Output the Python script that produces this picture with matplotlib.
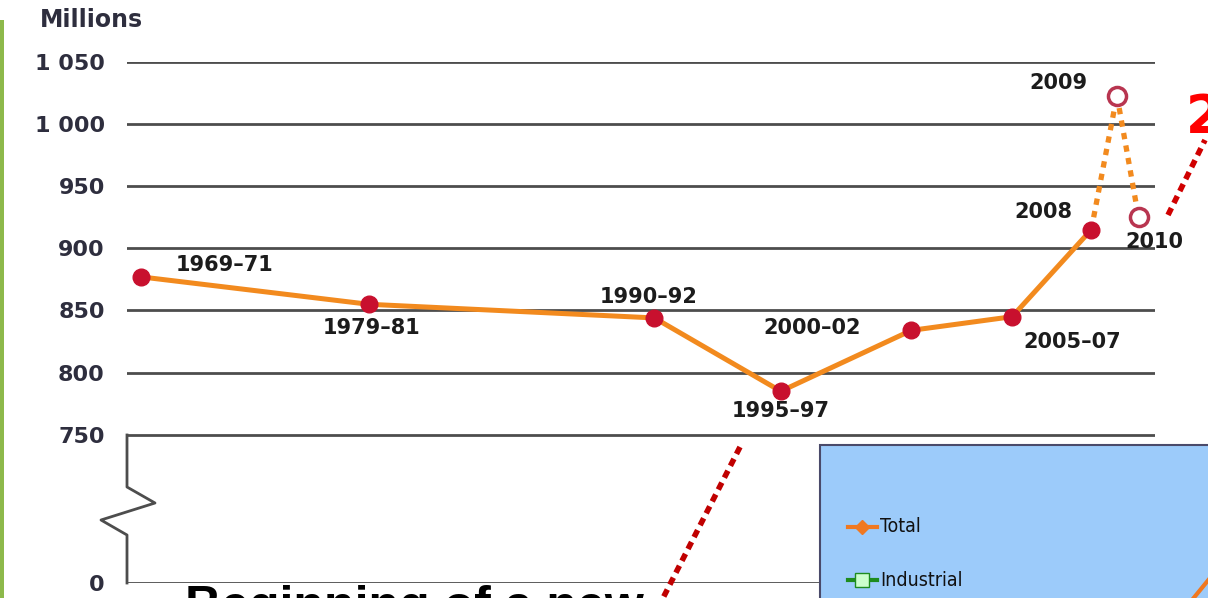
import matplotlib.pyplot as plt
from matplotlib.lines import Line2D
from matplotlib.patches import Rectangle

# undernourished people, millions
periods = ['1969–71', '1979–81', '1990–92', '1995–97', '2000–02', '2005–07', '2008']
x_pos = [1.4, 23.5, 51.3, 63.6, 76.3, 86.1, 93.8]
hungry = [877, 855, 844, 785, 834, 845, 915]

proj_years = ['2009', '2010']
proj_x = [96.3, 98.4]
proj_vals = [1023, 925]

tick_vals = [750, 800, 850, 900, 950, 1000, 1050]
tick_text = ['750', '800', '850', '900', '950', '1 000', '1 050']

W, H = 1208, 598
ORANGE = '#F28A1E'
RED = '#C8102E'


def fx(px):
    return px / W


def fy(py):
    return 1 - py / H


fig = plt.figure(figsize=(W / 100, H / 100), dpi=100)

# broken axis: bottom "0" sits 148 px below 750
px_per_unit = 62 / 50
y_zero = 750 - 148 / px_per_unit

ax = fig.add_axes([fx(127), fy(583), fx(1155) - fx(127), fy(62) - fy(583)])
ax.set_xlim(0, 100)
ax.set_ylim(y_zero, 1050)
for s in ax.spines.values():
    s.set_visible(False)
ax.set_xticks([])
ax.set_yticks([y_zero] + tick_vals)
ax.set_yticklabels(['0'] + tick_text, fontsize=16, fontweight='bold', color='#2e2e3e')
ax.tick_params(axis='y', length=0, pad=16)

for v in tick_vals + [y_zero]:
    ax.axhline(v, color='#4d4d4d', lw=2, zorder=1)

# main series
ax.plot(x_pos, hungry, color=ORANGE, lw=3.6, zorder=3, solid_capstyle='round')
ax.plot(x_pos, hungry, 'o', color=RED, ms=12, zorder=4)

# projections 2009 / 2010
ax.plot([x_pos[-1], proj_x[0]], [hungry[-1], proj_vals[0]], color=ORANGE, lw=3.8,
        linestyle=(0, (1.2, 1.2)), zorder=3)
ax.plot(proj_x, proj_vals, color=ORANGE, lw=3.8, linestyle=(0, (1.2, 1.2)), zorder=3)
ax.plot(proj_x, proj_vals, 'o', ms=13, mfc='white', mec='#B83550', mew=2.5, zorder=4)

label_off = [(83, 12), (3, -24), (-6, 21), (0, -20), (-99, 2), (60, -25), (-48, 18)]
for p, x, v, off in zip(periods, x_pos, hungry, label_off):
    ax.annotate(p, (x, v), xytext=off, textcoords='offset pixels', ha='center', va='center',
                fontsize=15, fontweight='bold', color='#1c1c1c', annotation_clip=False)
proj_off = [(-59, 13), (16, -25)]
for p, x, v, off in zip(proj_years, proj_x, proj_vals, proj_off):
    ax.annotate(p, (x, v), xytext=off, textcoords='offset pixels', ha='center', va='center',
                fontsize=15, fontweight='bold', color='#1c1c1c', annotation_clip=False)

fig.text(fx(40), fy(20), 'Millions', fontsize=17, fontweight='bold', color='#2e2e3e',
         ha='left', va='center')

# zigzag break on the left axis
zx = [127, 127, 155, 101, 127, 127]
zy = [435, 487, 503, 520, 535, 583]
fig.add_artist(Line2D([fx(v) for v in zx], [fy(v) for v in zy], color='#4d4d4d', lw=2))

# green slide bar
fig.add_artist(Rectangle((0, 0), fx(4), fy(20), color='#8DB94B', lw=0))

# red dotted pointers
fig.add_artist(Line2D([fx(740), fx(662)], [fy(447), fy(600)], color='#C00000', lw=4,
                      linestyle=(0, (1.4, 1.0)), dash_capstyle='butt'))
fig.add_artist(Line2D([fx(1168), fx(1205)], [fy(215), fy(140)], color='#D00000', lw=4,
                      linestyle=(0, (1.4, 1.0)), dash_capstyle='butt'))
fig.text(fx(1186), fy(118), '2', fontsize=38, fontweight='bold', color='#FF0000',
         ha='left', va='center')

# inset box bottom right
fig.add_artist(Rectangle((fx(820), fy(610)), fx(400), fy(445) - fy(610),
                         facecolor='#9CCBFA', edgecolor='#4a4a6a', lw=1.5, zorder=5))
fig.add_artist(Line2D([fx(848), fx(862), fx(877)], [fy(527)] * 3, color='#F07820', lw=3,
                      marker='D', ms=7, markevery=[1], zorder=6))
fig.add_artist(Line2D([fx(848), fx(862), fx(877)], [fy(580)] * 3, color='#1E8C1E', lw=3,
                      marker='s', ms=10, mfc='#CCFFCC', mec='#1E8C1E', markevery=[1], zorder=6))
fig.text(fx(880), fy(527), 'Total', fontsize=14, color='#111111', ha='left', va='center',
         family=['Liberation Sans Narrow', 'DejaVu Sans'], fontstretch='condensed', zorder=7)
fig.text(fx(880), fy(580), 'Industrial', fontsize=14, color='#111111', ha='left', va='center',
         family=['Liberation Sans Narrow', 'DejaVu Sans'], fontstretch='condensed', zorder=7)
fig.add_artist(Line2D([fx(1192), fx(1210)], [fy(600), fy(578)], color='#F07820', lw=3, zorder=6))

# cut-off slide caption
fig.text(fx(185), fy(585), 'Beginning of a new', fontsize=36, fontweight='bold',
         color='black', family=['Liberation Sans', 'DejaVu Sans'], ha='left', va='top')

fig.savefig('out.png', dpi=100)
